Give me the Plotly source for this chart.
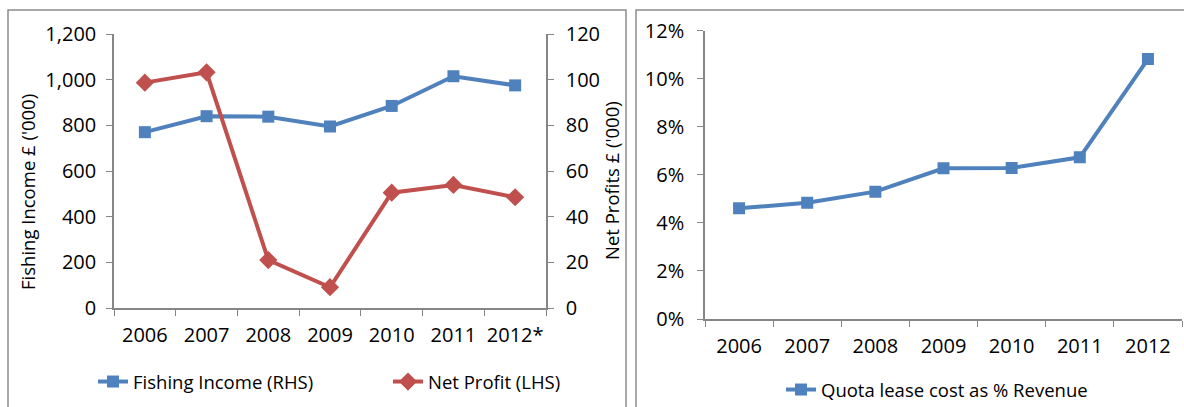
import plotly.graph_objects as go

# ---- data ----
years_left = ["2006", "2007", "2008", "2009", "2010", "2011", "2012*"]
fishing_income = [770, 840, 838, 795, 885, 1015, 975]      # left axis, £'000
net_profit = [98.7, 103.2, 21.0, 9.1, 50.5, 53.9, 48.5]     # right axis, £'000

years_right = ["2006", "2007", "2008", "2009", "2010", "2011", "2012"]
quota_pct = [4.61, 4.84, 5.30, 6.27, 6.29, 6.73, 10.82]     # % of revenue

BLUE = "#4F81BD"
RED = "#C0504D"
AXIS = "#868686"
FONT = "Open Sans"
W, H = 1184, 407

def px(x):
    return x / W

def py(y):
    return 1 - y / H

fig = go.Figure()

fig.add_trace(go.Scatter(
    x=years_left, y=fishing_income, name="Fishing Income (RHS)",
    mode="lines+markers", line=dict(color=BLUE, width=4),
    marker=dict(symbol="square", size=12, color=BLUE),
    xaxis="x", yaxis="y", legend="legend"))
fig.add_trace(go.Scatter(
    x=years_left, y=net_profit, name="Net Profit (LHS)",
    mode="lines+markers", line=dict(color=RED, width=4),
    marker=dict(symbol="diamond", size=14, color=RED),
    xaxis="x", yaxis="y2", legend="legend"))
fig.add_trace(go.Scatter(
    x=years_right, y=quota_pct, name="Quota lease cost as % Revenue",
    mode="lines+markers", line=dict(color=BLUE, width=4),
    marker=dict(symbol="square", size=12, color=BLUE),
    xaxis="x3", yaxis="y3", legend="legend2"))

tickfont = dict(family=FONT, size=20, color="#000000")
common_x = dict(type="category", showline=True, linecolor=AXIS, linewidth=1.5,
                ticks="outside", tickson="boundaries", ticklen=6, tickcolor=AXIS,
                showgrid=False, zeroline=False, tickfont=tickfont, fixedrange=True,
                automargin=False, tickangle=0, ticklabelstandoff=8)
common_y = dict(showline=True, linecolor=AXIS, linewidth=1.5, ticks="outside",
                ticklen=6, tickcolor=AXIS, showgrid=False, zeroline=False,
                tickfont=tickfont, fixedrange=True, automargin=False)

fig.update_layout(
    width=W, height=H,
    margin=dict(l=0, r=0, t=0, b=0, autoexpand=False),
    paper_bgcolor="white", plot_bgcolor="white",
    font=dict(family=FONT, size=19, color="#000000"),
    xaxis=dict(domain=[px(114), px(546)], anchor="y", range=[-0.5, 6.5], **common_x),
    yaxis=dict(domain=[py(308), py(34)], anchor="x", range=[0, 1200], dtick=200,
               tickformat=",", ticklabelstandoff=6, **common_y),
    yaxis2=dict(overlaying="y", side="right", anchor="x", range=[0, 120], dtick=20,
                ticklabelstandoff=8, **common_y),
    xaxis3=dict(domain=[px(705), px(1182)], anchor="y3", range=[-0.5, 6.5], **common_x),
    yaxis3=dict(domain=[py(319), py(30.7)], anchor="x3", range=[0, 12], dtick=2,
                ticksuffix="%", ticklabelstandoff=9, **common_y),
    legend=dict(orientation="h", x=px(93), y=py(382), xanchor="left", yanchor="middle",
                font=dict(family=FONT, size=18.5), entrywidth=250, bgcolor="rgba(0,0,0,0)"),
    legend2=dict(orientation="h", x=px(781), y=py(390), xanchor="left", yanchor="middle",
                 font=dict(family=FONT, size=18.5), bgcolor="rgba(0,0,0,0)"),
    showlegend=True,
)

# axis titles
fig.add_annotation(text="Fishing Income £ ('000)", x=px(27), y=py(192), xref="paper", yref="paper",
                   textangle=-90, showarrow=False, font=dict(family=FONT, size=18.5),
                   xanchor="center", yanchor="middle")
fig.add_annotation(text="Net Profits £ ('000)", x=px(612), y=py(181), xref="paper", yref="paper",
                   textangle=-90, showarrow=False, font=dict(family=FONT, size=18.5),
                   xanchor="center", yanchor="middle")

# chart borders
fig.add_shape(type="rect", xref="paper", yref="paper", x0=px(8), x1=px(626), y0=py(420), y1=py(10),
              line=dict(color="#8C8C8C", width=1.5), layer="below")
fig.add_shape(type="rect", xref="paper", yref="paper", x0=px(636), x1=px(1200), y0=py(420), y1=py(10),
              line=dict(color="#8C8C8C", width=1.5), layer="below")

fig.write_html("out.html", config={"displayModeBar": False},
               post_script="document.body.style.margin='0';")
